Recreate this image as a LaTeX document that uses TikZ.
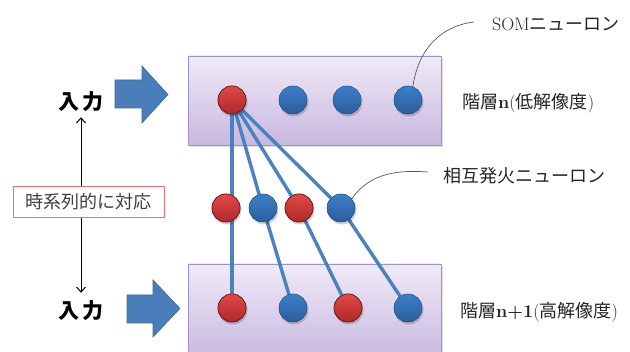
\documentclass[tikz,border=0pt]{standalone}
\usepackage{fontspec}
\newfontfamily\cjk{Noto Sans CJK JP}
\usetikzlibrary{arrows.meta}
\definecolor{linkblue}{HTML}{4A82C0}
\definecolor{bluetop}{HTML}{3C7FC8}
\definecolor{bluebot}{HTML}{2A5E9E}
\definecolor{redtop}{HTML}{E04848}
\definecolor{redbot}{HTML}{B02828}
\definecolor{boxtop}{HTML}{EFEAF7}
\definecolor{boxbot}{HTML}{C8B8E0}
\definecolor{boxline}{HTML}{A38FCB}
\definecolor{arrowfill}{HTML}{4A7EBB}
\definecolor{arrowline}{HTML}{3A699F}
\definecolor{tagred}{HTML}{F07070}
\tikzset{
  neuron/.style={circle, minimum size=28pt, inner sep=0pt},
  blueneuron/.style={neuron, top color=bluetop, bottom color=bluebot, draw=bluebot!80!black, line width=0.3pt},
  redneuron/.style={neuron, top color=redtop, bottom color=redbot, draw=redbot!60!black, line width=0.6pt},
  layerbox/.style={draw=boxline, line width=0.8pt, top color=boxtop, bottom color=boxbot},
  link/.style={draw=linkblue, line width=3.4pt},
  bigarrow/.style={fill=arrowfill, draw=arrowline, line width=0.6pt},
  inlabel/.style={font=\cjk\bfseries\fontsize{21}{23}\selectfont, inner sep=1pt},
  rlabel/.style={font=\fontsize{18}{20}\selectfont, anchor=west, inner sep=0pt, text=black!85},
  callout/.style={draw=black!65, line width=0.7pt},
}
\begin{document}
\begin{tikzpicture}[x=1pt,y=-1pt]
\useasboundingbox (0,0) rectangle (630,352);
\clip (0,0) rectangle (630,352);
\fill[white] (0,0) rectangle (630,352);

% layer boxes
\fill[black, opacity=0.12] (190,58) rectangle (443,147);
\path[layerbox] (188,56) rectangle (441,145);
\fill[black, opacity=0.12] (190,266) rectangle (443,360);
\path[layerbox] (188,264) rectangle (441,360);

% neurons (positions)
\node[redneuron] (t1) at (232,100) {};
\node[blueneuron] (t2) at (293,100) {};
\node[blueneuron] (t3) at (347,100) {};
\node[blueneuron] (t4) at (408,100) {};

\node[redneuron] (m1) at (226,208) {};
\node[blueneuron] (m2) at (263,208) {};
\node[redneuron] (m3) at (299,208) {};
\node[blueneuron] (m4) at (341,208) {};

\node[redneuron] (b1) at (232,308) {};
\node[blueneuron] (b2) at (293,308) {};
\node[redneuron] (b3) at (348,308) {};
\node[blueneuron] (b4) at (408,308) {};

% links
\path[link] (t1.center) -- (b1.center);
\path[link] (t1.center) -- (m2.center) -- (b2.center);
\path[link] (t1.center) -- (m3.center) -- (b3.center);
\path[link] (t1.center) -- (m4.center) -- (b4.center);

% neurons on top of the links, with shadows
\foreach \n/\s in {t1/redneuron,t2/blueneuron,t3/blueneuron,t4/blueneuron,
                   m1/redneuron,m2/blueneuron,m3/redneuron,m4/blueneuron,
                   b1/redneuron,b2/blueneuron,b3/redneuron,b4/blueneuron}{
  \fill[black, opacity=0.18] ([xshift=1pt,yshift=-2pt]\n.center) circle (14.5pt);
  \node[\s] at (\n.center) {};
}

% big input arrows
\path[bigarrow] (115,80) -- (142,80) -- (142,66) -- (168,94.5) -- (142,123) -- (142,108) -- (115,108) -- cycle;
\path[bigarrow] (127,295) -- (153,295) -- (153,280) -- (180,308.5) -- (153,337) -- (153,323) -- (127,323) -- cycle;

% input labels
\node[inlabel] (in1) at (81,102) {入\,力};
\node[inlabel] (in2) at (81,311) {入\,力};

% time correspondence arrow
\draw[{Straight Barb[length=5pt,width=9pt]}-{Straight Barb[length=5pt,width=9pt]}, line width=1pt]
  ([yshift=-4pt]in1.south) -- ([yshift=7pt]in2.north);
\node[draw=tagred, line width=0.8pt, fill=white, minimum width=151pt, minimum height=31pt, inner sep=0pt,
      font=\cjk\fontsize{18}{20}\selectfont, text=black!75] (tag) at (88.5,201.5) {時系列的に対応};

% right labels
\node[rlabel] (som) at (492,24) {SOM{\cjk ニューロン}};
\node[rlabel] (ln) at (462,103) {{\cjk 階層}\textbf{n}({\cjk 低解像度})};
\node[rlabel] (mut) at (443,176) {\cjk 相互発火ニューロン};
\node[rlabel] (ln1) at (460,312) {{\cjk 階層}\textbf{n+1}({\cjk 高解像度})};

% callouts
\coordinate (c1) at (474,22);
\coordinate (c2) at (428,172);
\path[callout] (c1) .. controls (440,26) and (418,50) .. (t4.70);
\path[callout] (c2) .. controls (400,170) and (370,172) .. (m4.40);
\end{tikzpicture}
\end{document}
